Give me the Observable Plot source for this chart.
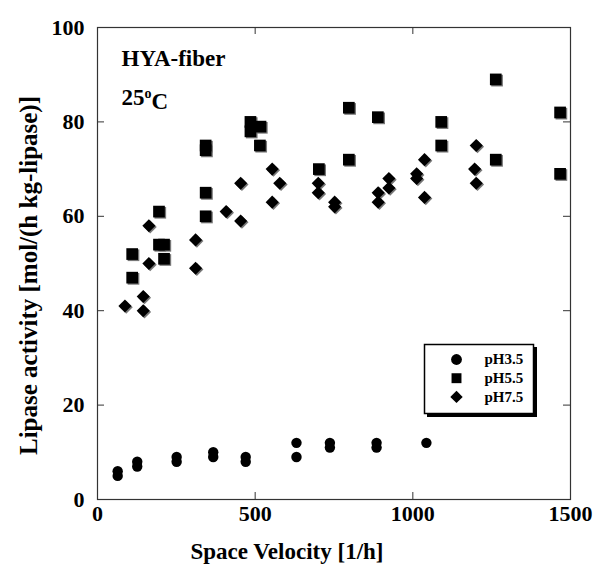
<!DOCTYPE html>
<html><head><meta charset="utf-8">
<script src="https://cdn.jsdelivr.net/npm/d3@7"></script>
<script src="https://cdn.jsdelivr.net/npm/@observablehq/plot@0.6"></script>
<style>
body{margin:0;background:#fff}
#chart svg{display:block;font-family:"Liberation Serif","DejaVu Serif",serif;font-weight:bold}
</style>
</head><body><div id="chart"></div>
<script>
// Series data
const seriesNames = ["pH3.5", "pH5.5", "pH7.5"];
const seriesSymbols = ["circle", "square", "diamond2"];
const ph35X = [64,64,126,126,251,251,367,367,470,470,631,631,737,737,885,885,1043];
const ph35Y = [6,5,8,7,9,8,10,9,9,8,12,9,12,11,12,11,12];
const ph55X = [110,110,195,195,211,211,343,343,343,343,485,485,517,515,702,797,797,889,1090,1090,1263,1263,1467,1467];
const ph55Y = [52,47,61,54,54,51,75,74,65,60,80,78,79,75,70,83,72,81,80,75,89,72,82,69];
const ph75X = [87,145,145,163,163,311,311,408,454,454,554,554,578,700,700,752,752,890,890,924,924,1012,1012,1037,1037,1196,1201,1201];
const ph75Y = [41,43,40,58,50,55,49,61,59,67,70,63,67,67,65,63,62,65,63,68,66,69,68,72,64,70,75,67];
const xTicks = [0, 500, 1000, 1500];
const yTicks = [0, 20, 40, 60, 80, 100];
const xTitle = "Space Velocity [1/h]";
const yTitle = "Lipase activity [mol/(h kg-lipase)]";
const note1 = "HYA-fiber";
const note2 = "25oC";

const toRows = (xs, ys, s) => xs.map((x, i) => ({x, y: ys[i], series: s}));
const data = [
  ...toRows(ph35X, ph35Y, seriesNames[0]),
  ...toRows(ph55X, ph55Y, seriesNames[1]),
  ...toRows(ph75X, ph75Y, seriesNames[2])
];
const symbolOf = Object.fromEntries(seriesNames.map((n, i) => [n, seriesSymbols[i]]));
const rOf = {"circle": 5.2, "square": 6.6, "diamond2": 5.9};

const W = 606, H = 565, mL = 97, mR = 36, mT = 27, mB = 66;
const iW = W - mL - mR, iH = H - mT - mB;
const tick = 7;
const innerX = xTicks.slice(1, -1), innerY = yTicks.slice(1, -1);

const legendMarks = seriesNames.flatMap((name, i) => [
  Plot.dot({length: 1}, {frameAnchor: "bottom-right", dx: -114, dy: -140 + i * 18.7,
    symbol: seriesSymbols[i], r: [5.4, 5.6, 5.6][i], fill: "black"}),
  Plot.text({length: 1}, {frameAnchor: "bottom-right", dx: -86, dy: -140 + i * 18.7,
    text: () => name, textAnchor: "start", lineAnchor: "middle", fontSize: 15, fontWeight: "bold", fill: "black"})
]);

const plot = Plot.plot({
  width: W, height: H,
  marginLeft: mL, marginRight: mR, marginTop: mT, marginBottom: mB,
  style: {fontFamily: "'Liberation Serif', serif", background: "white"},
  x: {domain: [0, 1500]},
  y: {domain: [0, 100]},
  r: {type: "identity"},
  marks: [
    Plot.axisX({ticks: xTicks, tickFormat: d => String(d), tickSize: 0, tickPadding: 6, fontSize: 22, fontWeight: "bold", label: null}),
    Plot.axisY({ticks: yTicks, tickFormat: d => String(d), tickSize: 0, tickPadding: 13, fontSize: 22, fontWeight: "bold", label: null}),
    Plot.frame({stroke: "#333", strokeWidth: 1.2}),
    Plot.ruleX(innerX, {x: d => d, insetTop: iH - tick, stroke: "#333"}),
    Plot.ruleX(innerX, {x: d => d, insetBottom: iH - tick, stroke: "#333"}),
    Plot.ruleY(innerY, {y: d => d, insetRight: iW - tick, stroke: "#333"}),
    Plot.ruleY(innerY, {y: d => d, insetLeft: iW - tick, stroke: "#333"}),
    // symbol shadows
    Plot.dot(data.filter(d => d.series !== seriesNames[0]), {x: "x", y: "y", dx: 1.3, dy: 1.2,
      symbol: d => symbolOf[d.series], r: d => rOf[symbolOf[d.series]], fill: "#777"}),
    Plot.dot(data, {x: "x", y: "y", symbol: d => symbolOf[d.series], r: d => rOf[symbolOf[d.series]], fill: "black"}),
    // notes
    Plot.text({length: 1}, {frameAnchor: "top-left", dx: 24, dy: 38, text: () => note1, textAnchor: "start",
      lineAnchor: "bottom", fontSize: 23, fontWeight: "bold", fill: "black"}),
    Plot.text({length: 1}, {frameAnchor: "top-left", dx: 24, dy: 77, text: () => note2, textAnchor: "start",
      lineAnchor: "bottom", fontSize: 23, fontWeight: "bold", fill: "black"}),
    // axis titles
    Plot.text({length: 1}, {frameAnchor: "bottom", dx: -47, dy: 59, text: () => xTitle, lineAnchor: "bottom",
      fontSize: 23, fontWeight: "bold", fill: "black"}),
    Plot.text({length: 1}, {frameAnchor: "left", dx: -61, dy: 12, rotate: -90, text: () => yTitle,
      textAnchor: "middle", lineAnchor: "bottom", fontSize: 25, fontWeight: "bold", fill: "black"}),
    // legend box
    Plot.frame({insetLeft: 330, insetRight: 34, insetTop: 320, insetBottom: 83, fill: "black", stroke: "black"}),
    Plot.frame({insetLeft: 327, insetRight: 37, insetTop: 317, insetBottom: 86, fill: "white", stroke: "black", strokeWidth: 1.5}),
    ...legendMarks
  ]
});

// superscript "o" in 25oC
d3.select(plot).selectAll("text").filter(function() { return this.textContent === note2; }).each(function() {
  const t = d3.select(this);
  t.text(null);
  t.append("tspan").text("25");
  t.append("tspan").attr("dy", "-0.45em").attr("font-size", "14px").text("o");
  t.append("tspan").attr("dy", "0.45em").text("C");
});

document.getElementById("chart").appendChild(plot);
</script>
</body></html>
